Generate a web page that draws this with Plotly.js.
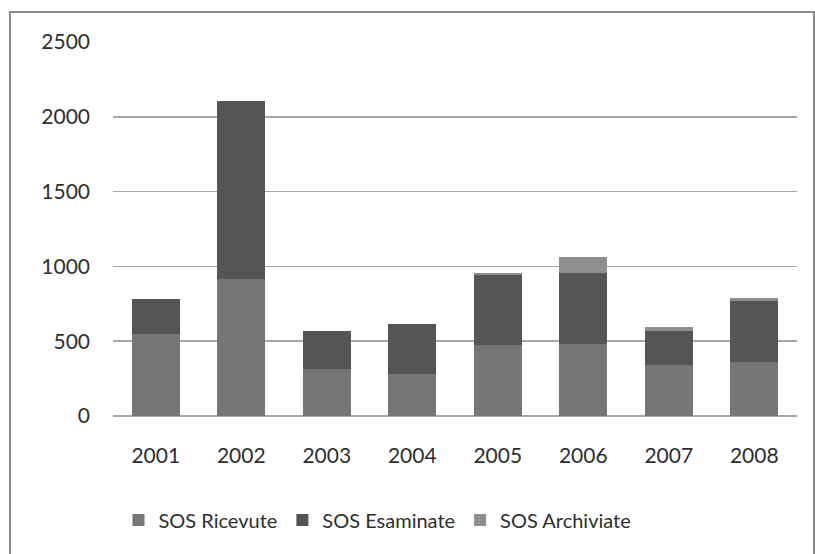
<!DOCTYPE html>
<html>
<head>
<meta charset="utf-8">
<script src="https://cdn.plot.ly/plotly-3.0.1.min.js"></script>
<style>
  html, body { margin: 0; padding: 0; background: #ffffff; }
  #wrap { position: relative; width: 815px; height: 554px; overflow: hidden; }
  #chart { position: absolute; left: 0; top: 0; width: 815px; height: 554px; }
  #frame { position: absolute; left: 9px; top: 11px; width: 802px; height: 560px;
           border: 2px solid #8a8a8a; pointer-events: none; }
</style>
</head>
<body>
<div id="wrap">
  <div id="chart"></div>
  <div id="frame"></div>
</div>
<script>
const years = ['2001', '2002', '2003', '2004', '2005', '2006', '2007', '2008'];
const ricevute = [545, 918, 315, 283, 472, 479, 341, 362];
const esaminate = [237, 1188, 253, 335, 473, 479, 226, 407];
const archiviate = [0, 0, 0, 0, 10, 108, 26, 22];
const seriesNames = ['SOS Ricevute', 'SOS Esaminate', 'SOS Archiviate'];
const yTicks = [0, 500, 1000, 1500, 2000, 2500];

const colors = ['#767676', '#555555', '#8e8e8e'];
const font = 'Lato, "Open Sans", sans-serif';

const data = [ricevute, esaminate, archiviate].map((vals, i) => ({
  type: 'bar',
  x: years,
  y: vals,
  name: seriesNames[i],
  marker: { color: colors[i], line: { width: 0 } },
  hoverinfo: 'x+y+name'
}));

const layout = {
  width: 815,
  height: 554,
  barmode: 'stack',
  bargap: 0.44,
  paper_bgcolor: '#ffffff',
  plot_bgcolor: '#ffffff',
  margin: { l: 113, r: 18, t: 42, b: 137.5 },
  font: { family: font, size: 21, color: '#2e2e2e' },
  xaxis: {
    type: 'category',
    tickvals: years,
    ticktext: years,
    showgrid: false,
    zeroline: false,
    showline: false,
    ticks: '',
    ticklabelstandoff: 25,
    tickfont: { family: font, size: 21, color: '#2e2e2e' }
  },
  yaxis: {
    range: [0, 2500],
    tickvals: yTicks,
    ticktext: yTicks.map(String),
    showgrid: true,
    gridcolor: '#a6a6a6',
    gridwidth: 1.5,
    zeroline: true,
    zerolinecolor: '#a6a6a6',
    zerolinewidth: 1.5,
    showline: false,
    ticks: '',
    ticklabelstandoff: 22,
    tickfont: { family: font, size: 21, color: '#2e2e2e' }
  },
  showlegend: true,
  legend: {
    orientation: 'h',
    x: 0.008,
    xanchor: 'left',
    y: -0.226,
    yanchor: 'top',
    font: { family: font, size: 20, color: '#2e2e2e' },
    traceorder: 'normal',
    itemwidth: 30,
    bgcolor: 'rgba(0,0,0,0)'
  }
};

Plotly.newPlot('chart', data, layout, { displayModeBar: false, staticPlot: true });
</script>
</body>
</html>
